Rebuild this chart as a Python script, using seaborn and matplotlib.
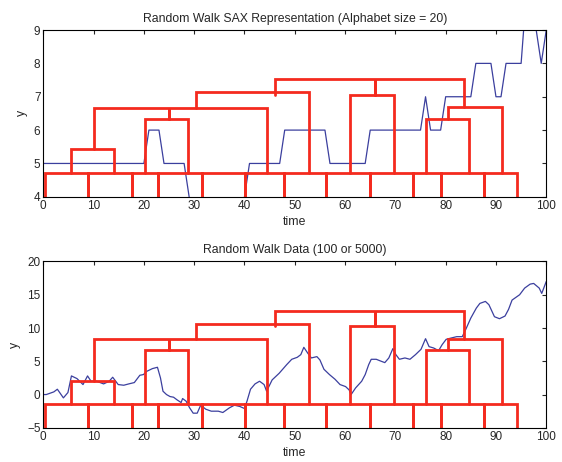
import numpy as np
import pandas as pd
import matplotlib
matplotlib.use("Agg")
import matplotlib.pyplot as plt
import matplotlib.transforms as mtransforms
import seaborn as sns

# ---- data ----
# SAX symbols (one per time step 0..100)
sax_time = list(range(101))
sax_value = [5, 5, 5, 5, 5, 5, 5, 5, 5, 5, 5, 5, 5, 5, 5, 5, 5, 5, 5, 5, 5,
             6, 6, 6,
             5, 5, 5, 5, 5,
             4,
             3, 3, 3, 3, 3, 3, 3, 3, 3, 3,
             4,
             5, 5, 5, 5, 5, 5, 5,
             6, 6, 6, 6, 6, 6, 6, 6, 6,
             5, 5, 5, 5, 5, 5, 5, 5,
             6, 6, 6, 6, 6, 6, 6, 6, 6, 6, 6,
             7,
             6, 6, 6,
             7, 7, 7, 7, 7, 7,
             8, 8, 8, 8,
             7, 7,
             8, 8, 8, 8,
             10, 10,
             9, 8, 9]

# raw random walk
walk_time = [0, 0.6, 2.1, 2.8, 4.0, 4.9, 5.6, 6.7, 7.9, 8.8, 9.5, 10.6, 12.0, 13.1,
             13.8, 14.9, 16.0, 17.0, 18.1, 19.2, 19.9, 20.6, 21.7, 22.7, 23.3, 23.8,
             24.5, 25.2, 25.9, 26.6, 27.4, 27.7, 28.4, 29.1, 29.8, 30.6, 31.3, 32.3,
             33.4, 34.8, 35.7, 37.0, 38.0, 39.1, 40.0, 40.5, 41.2, 42.1, 43.0, 43.9,
             44.4, 45.5, 46.9, 48.4, 49.4, 50.5, 51.2, 51.8, 52.6, 53.3, 54.4, 55.0,
             55.8, 56.9, 58.0, 59.0, 60.1, 60.8, 61.2, 62.1, 63.3, 64.0, 64.7, 65.2,
             66.2, 67.2, 67.9, 68.7, 69.5, 70.1, 70.8, 71.9, 72.9, 74.0, 75.1, 76.0,
             76.7, 77.6, 78.6, 79.3, 80.1, 81.1, 82.2, 83.3, 84.0, 85.0, 86.1, 86.8,
             87.9, 88.6, 89.7, 90.7, 91.8, 92.5, 93.2, 94.7, 95.7, 96.8, 97.5, 98.6,
             99.1, 100.0]
walk_value = [0.0, 0.0, 0.4, 0.8, -0.5, 0.3, 2.8, 2.4, 1.5, 2.8, 2.0, 2.0, 1.6, 2.0,
              2.6, 1.5, 1.4, 1.6, 1.8, 2.9, 3.0, 3.5, 3.9, 4.1, 2.5, 0.5,
              0.0, -0.3, -0.4, -0.8, -1.2, -0.6, -1.0, -2.0, -2.8, -2.8, -1.6, -2.2,
              -2.5, -2.5, -2.7, -2.0, -1.6, -1.8, -2.1, -1.0, 0.8, 1.6, 2.0, 1.5,
              0.5, 2.2, 3.2, 4.5, 5.3, 5.6, 6.0, 7.1, 6.2, 5.5, 5.7, 5.2,
              3.8, 3.0, 2.3, 1.5, 1.2, 0.7, 0.0, 1.0, 2.0, 3.0, 4.5, 5.3,
              5.3, 5.0, 4.8, 5.5, 6.9, 6.0, 5.3, 5.5, 5.3, 6.0, 6.8, 8.4,
              7.2, 7.0, 6.6, 7.5, 8.3, 8.5, 8.7, 8.7, 9.8, 11.5, 13.0, 13.7,
              14.0, 13.5, 11.7, 11.4, 11.8, 12.8, 14.2, 15.0, 16.0, 16.6, 16.7, 16.0,
              15.2, 17.0]

# dendrogram overlay: x in time units, heights as fraction of axis height
leaf_x = [0.3, 8.9, 17.6, 22.9, 31.5, 40.1, 47.9, 56.3, 65.0, 73.6, 79.0, 87.6, 94.2]
leaf_top = 0.144
link_xl = [5.6, 20.2, 10.1, 25.0, 30.3, 61.0, 76.1, 80.4, 46.1, 66.0]
link_xr = [14.1, 28.7, 44.5, 25.0, 52.8, 69.7, 84.65, 91.25, 83.7, 66.0]
link_bl = [0.144, 0.144, 0.284, 0.466, 0.534, 0.144, 0.144, 0.468, 0.61, 0.612]
link_br = [0.144, 0.144, 0.144, 0.466, 0.144, 0.144, 0.144, 0.144, 0.536, 0.612]
link_top = [0.284, 0.466, 0.534, 0.534, 0.626, 0.612, 0.468, 0.536, 0.704, 0.704]

# ---- style ----
sns.set_style("white")
plt.rcParams.update({
    "font.family": ["Liberation Sans", "DejaVu Sans"],
    "font.size": 8.5,
    "xtick.direction": "in",
    "ytick.direction": "in",
    "xtick.top": True,
    "ytick.right": True,
    "xtick.major.size": 3,
    "ytick.major.size": 3,
    "axes.edgecolor": "black",
    "axes.linewidth": 0.8,
})

BLUE = "#3b3f9e"
RED = "#f42a1e"

fig = plt.figure(figsize=(5.62, 4.62), dpi=100)
ax1 = fig.add_axes([0.077, 0.574, 0.895, 0.361])
ax2 = fig.add_axes([0.077, 0.074, 0.895, 0.360])

df_sax = pd.DataFrame({"time": sax_time, "y": sax_value})
df_walk = pd.DataFrame({"time": walk_time, "y": walk_value})

sns.lineplot(data=df_sax, x="time", y="y", ax=ax1, color=BLUE, linewidth=0.9)
sns.lineplot(data=df_walk, x="time", y="y", ax=ax2, color=BLUE, linewidth=0.9)


def draw_dendrogram(ax):
    trans = mtransforms.blended_transform_factory(ax.transData, ax.transAxes)
    # leaves, joined pairwise along the bottom bar
    for a, b in zip(leaf_x[:-1], leaf_x[1:]):
        ax.plot([a, a, b, b], [0, leaf_top, leaf_top, 0], color=RED,
                lw=2.0, transform=trans, solid_joinstyle="miter")
    for xl, xr, bl, br, top in zip(link_xl, link_xr, link_bl, link_br, link_top):
        ax.plot([xl, xl, xr, xr], [bl, top, top, br], color=RED,
                lw=2.0, transform=trans, solid_joinstyle="miter")


draw_dendrogram(ax1)
draw_dendrogram(ax2)

ax1.set_xlim(0, 100)
ax1.set_ylim(4, 9)
ax1.set_xticks(range(0, 101, 10))
ax1.set_yticks(range(4, 10))
ax1.set_title("Random Walk SAX Representation (Alphabet size = 20)", fontsize=8.8, pad=6)

ax2.set_xlim(0, 100)
ax2.set_ylim(-5, 20)
ax2.set_xticks(range(0, 101, 10))
ax2.set_yticks(range(-5, 21, 5))
ax2.set_title("Random Walk Data (100 or 5000)", fontsize=8.8, pad=6)

for ax in (ax1, ax2):
    ax.set_xlabel("time", fontsize=8.8, labelpad=3)
    ax.set_ylabel("y", fontsize=8.8, labelpad=4)
    ax.tick_params(labelsize=8.5, pad=2)
    for s in ax.spines.values():
        s.set_visible(True)
        s.set_color("black")

fig.savefig("out.png", dpi=100, facecolor="white")
